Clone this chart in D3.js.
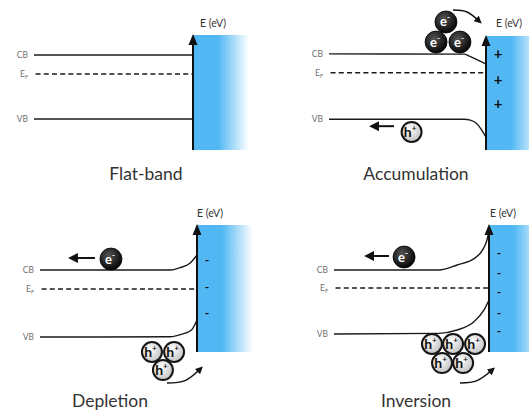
<!DOCTYPE html>
<html>
<head>
<meta charset="utf-8">
<script src="https://cdn.jsdelivr.net/npm/d3@7"></script>
<style>
  body { margin: 0; background: #fff; }
  svg { display: block; }
  text { font-family: Lato, "Open Sans", sans-serif; }
</style>
</head>
<body>
<div id="chart"></div>
<script>
// panel titles, in order: top-left, top-right, bottom-left, bottom-right
const titles = ['Flat-band', 'Accumulation', 'Depletion', 'Inversion'];

// band points: [position (0 = bulk end of line, 1 = surface), energy (0 = axis bottom, 1 = axis top)]
const cbBands = [
    [[0, 0.826], [1, 0.826]],
    [[0, 0.843], [0.86, 0.841], [0.89, 0.826], [0.936, 0.797], [1, 0.754]],
    [[0, 0.646], [0.83, 0.646], [0.89, 0.664], [0.955, 0.699], [1, 0.764]],
    [[0, 0.646], [0.677, 0.646], [0.794, 0.685], [0.903, 0.735], [0.98, 0.856], [1, 0.947]]
];
const efLevels = [0.661, 0.678, 0.496, 0.504];
const vbBands = [
    [[0, 0.27], [1, 0.27]],
    [[0, 0.27], [0.86, 0.27], [0.9, 0.262], [0.94, 0.233], [1, 0.113]],
    [[0, 0.118], [0.83, 0.12], [0.9, 0.139], [0.965, 0.173], [1, 0.252]],
    [[0, 0.142], [0.677, 0.147], [0.794, 0.173], [0.903, 0.239], [0.968, 0.331], [1, 0.409]]
];

// charges in the blue surface region (energy levels) and their sign
const chargeSigns = ['', '+', '-', '-'];
const surfaceCharges = [
    [],
    [0.843, 0.617, 0.4],
    [0.717, 0.504, 0.307],
    [0.772, 0.622, 0.465, 0.307, 0.165]
];

// carriers: [position, energy]
const electrons = [
    [],
    [[0.745, 1.123], [0.682, 0.947], [0.834, 0.947]],
    [[0.452, 0.732]],
    [[0.452, 0.748]]
];
const holes = [
    [],
    [[0.526, 0.158]],
    [[0.713, 0.0], [0.854, 0.0], [0.783, -0.142]],
    [[0.632, 0.063], [0.768, 0.063], [0.910, 0.063], [0.697, -0.087], [0.833, -0.087]]
];

// straight drift arrows: [from position, to position, energy]
const driftArrows = [
    null,
    [0.414, 0.255, 0.209],
    [0.35, 0.178, 0.74],
    [0.355, 0.194, 0.756]
];
// curved arrows: start, bend, end as [position, energy]
const curvedArrows = [
    null,
    [[0.79, 1.228], [0.879, 1.211], [0.955, 1.132]],
    [[0.809, -0.244], [0.924, -0.225], [1.02, -0.134]],
    [[0.813, -0.244], [0.923, -0.225], [1.02, -0.142]]
];

// layout of the four panels (pixels)
const layout = [
    { left: 34, surface: 193, top: 35, bottom: 150, labelDx: 7, labelY: 27, titleX: 146, titleY: 180 },
    { left: 329, surface: 486, top: 36, bottom: 150, labelDx: 10, labelY: 27, titleX: 416, titleY: 180 },
    { left: 40, surface: 197, top: 225, bottom: 352, labelDx: 0, labelY: 217, titleX: 110, titleY: 407 },
    { left: 334, surface: 489, top: 225, bottom: 352, labelDx: 1, labelY: 217, titleX: 416, titleY: 407 }
];

const W = 529, H = 412;
const BLUE = '#52b8f4';

const svg = d3.select('#chart').append('svg')
    .attr('width', W)
    .attr('height', H);

const defs = svg.append('defs');
const grad = defs.append('linearGradient').attr('id', 'metal').attr('x1', 0).attr('x2', 1);
grad.append('stop').attr('offset', '0%').attr('stop-color', BLUE);
grad.append('stop').attr('offset', '45%').attr('stop-color', BLUE);
grad.append('stop').attr('offset', '100%').attr('stop-color', '#fff');

const eGrad = defs.append('radialGradient').attr('id', 'eball').attr('cx', '40%').attr('cy', '35%').attr('r', '65%');
eGrad.append('stop').attr('offset', '0%').attr('stop-color', '#555');
eGrad.append('stop').attr('offset', '100%').attr('stop-color', '#050505');
const hGrad = defs.append('radialGradient').attr('id', 'hball').attr('cx', '40%').attr('cy', '35%').attr('r', '65%');
hGrad.append('stop').attr('offset', '0%').attr('stop-color', '#fff');
hGrad.append('stop').attr('offset', '100%').attr('stop-color', '#c4c4c4');

defs.append('marker')
    .attr('id', 'head')
    .attr('viewBox', '0 0 10 10')
    .attr('refX', 5).attr('refY', 5)
    .attr('markerWidth', 5).attr('markerHeight', 5)
    .attr('orient', 'auto')
    .append('path')
    .attr('d', 'M0,0L10,5L0,10Z')
    .attr('fill', '#111');

titles.forEach(function (title, i) {
    const L = layout[i];
    const x = d3.scaleLinear().domain([0, 1]).range([L.left, L.surface]);
    const y = d3.scaleLinear().domain([0, 1]).range([L.bottom, L.top]);
    const g = svg.append('g');

    // metal / blue region
    g.append('rect')
        .attr('x', x(1))
        .attr('y', y(1))
        .attr('width', 56)
        .attr('height', y(0) - y(1))
        .attr('fill', 'url(#metal)');

    const line = d3.line()
        .x((d) => x(d[0]))
        .y((d) => y(d[1]))
        .curve(d3.curveMonotoneX);

    // bands
    g.append('path').datum(cbBands[i])
        .attr('d', line).attr('fill', 'none')
        .attr('stroke', '#1a1a1a').attr('stroke-width', 1.4);
    g.append('path').datum(vbBands[i])
        .attr('d', line).attr('fill', 'none')
        .attr('stroke', '#1a1a1a').attr('stroke-width', 1.4);
    g.append('path').datum([[0.01, efLevels[i]], [1, efLevels[i]]])
        .attr('d', line).attr('fill', 'none')
        .attr('stroke', '#1a1a1a').attr('stroke-width', 1.4)
        .attr('stroke-dasharray', '5,3.2');

    // band labels
    const lab = g.append('g')
        .attr('font-size', 8.5)
        .attr('fill', '#707070')
        .attr('text-anchor', 'end');
    lab.append('text').attr('x', x(0) - 6).attr('y', y(cbBands[i][0][1]) + 3).text('CB');
    const ef = lab.append('text').attr('x', x(0) - 6).attr('y', y(efLevels[i]) + 3);
    ef.append('tspan').text('E');
    ef.append('tspan').attr('font-size', 5.5).attr('dy', 2).text('F');
    lab.append('text').attr('x', x(0) - 6).attr('y', y(vbBands[i][0][1]) + 3).text('VB');

    // energy axis with arrow head
    g.append('line')
        .attr('x1', x(1)).attr('x2', x(1))
        .attr('y1', y(0)).attr('y2', y(1) + 6)
        .attr('stroke', '#111').attr('stroke-width', 2);
    g.append('path')
        .attr('d', d3.line()([[x(1) - 4.5, y(1) + 10], [x(1), y(1) - 1], [x(1) + 4.5, y(1) + 10]]) + 'Z')
        .attr('fill', '#111');
    g.append('text')
        .attr('x', x(1) + L.labelDx)
        .attr('y', L.labelY)
        .attr('font-size', 10.5)
        .attr('fill', '#333')
        .text('E (eV)');

    // surface charges
    g.selectAll('.charge').data(surfaceCharges[i]).join('text')
        .attr('x', x(1) + (chargeSigns[i] === '+' ? 12 : 10))
        .attr('y', (d) => y(d) + (chargeSigns[i] === '+' ? 5 : 3.5))
        .attr('text-anchor', 'middle')
        .attr('font-size', chargeSigns[i] === '+' ? 15 : 12)
        .attr('font-weight', 'bold')
        .attr('fill', '#111')
        .text(chargeSigns[i]);

    // drift arrows
    if (driftArrows[i]) {
        const a = driftArrows[i];
        g.append('line')
            .attr('x1', x(a[0])).attr('x2', x(a[1]) + 5)
            .attr('y1', y(a[2])).attr('y2', y(a[2]))
            .attr('stroke', '#111').attr('stroke-width', 2)
            .attr('marker-end', 'url(#head)');
    }
    if (curvedArrows[i]) {
        const c = curvedArrows[i];
        g.append('path')
            .attr('d', d3.line().curve(d3.curveNatural)(c.map((p) => [x(p[0]), y(p[1])])))
            .attr('fill', 'none')
            .attr('stroke', '#111').attr('stroke-width', 1.5)
            .attr('marker-end', 'url(#head)');
    }

    // electrons
    const eg = g.selectAll('.el').data(electrons[i]).join('g')
        .attr('transform', (d) => 'translate(' + x(d[0]) + ',' + y(d[1]) + ')');
    eg.append('circle').attr('r', 11).attr('fill', 'url(#eball)').attr('stroke', '#000').attr('stroke-width', 0.8);
    const et = eg.append('text').attr('x', -1).attr('y', 4.5).attr('text-anchor', 'middle')
        .attr('fill', '#fff').attr('font-size', 13).attr('font-weight', 'bold');
    et.append('tspan').text('e');
    et.append('tspan').attr('font-size', 8).attr('dy', -6).text('-');

    // holes
    const hg = g.selectAll('.ho').data(holes[i]).join('g')
        .attr('transform', (d) => 'translate(' + x(d[0]) + ',' + y(d[1]) + ')');
    hg.append('circle').attr('r', 10).attr('fill', 'url(#hball)').attr('stroke', '#151515').attr('stroke-width', 2);
    const ht = hg.append('text').attr('x', -1.5).attr('y', 5).attr('text-anchor', 'middle')
        .attr('fill', '#111').attr('font-size', 14).attr('font-weight', 'bold');
    ht.append('tspan').text('h');
    ht.append('tspan').attr('font-size', 8).attr('dy', -6).text('+');

    // title
    g.append('text')
        .attr('x', L.titleX)
        .attr('y', L.titleY)
        .attr('text-anchor', 'middle')
        .attr('font-size', 17.5)
        .attr('fill', '#333')
        .text(title);
});
</script>
</body>
</html>
